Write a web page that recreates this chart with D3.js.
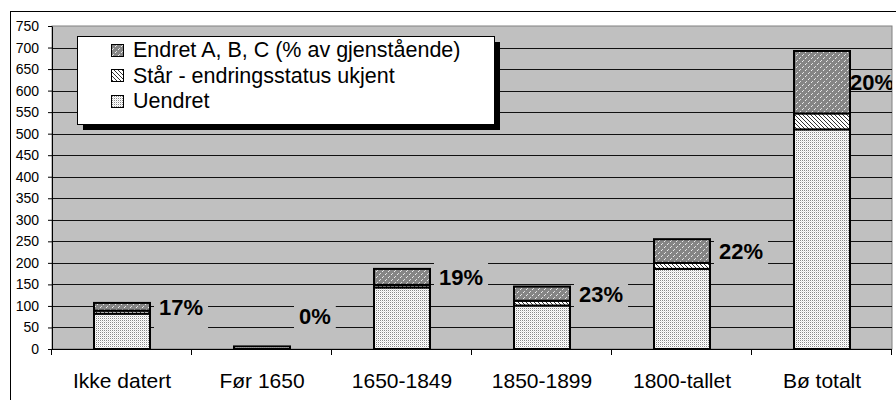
<!DOCTYPE html>
<html>
<head>
<meta charset="utf-8">
<script src="https://cdn.jsdelivr.net/npm/d3@7"></script>
<style>
  body { margin: 0; background: #fff; }
  svg { font-family: "Liberation Sans", Arial, sans-serif; }
</style>
</head>
<body>
<div id="chart"></div>
<script>
const categories = ["Ikke datert", "Før 1650", "1650-1849", "1850-1899", "1800-tallet", "Bø totalt"]
const uendret = [82, 6, 143, 101, 186, 510]
const staar = [7, 0, 6, 11, 14, 37]
const endret = [18, 0, 37, 33, 55, 145]
const pctLabels = ["17%", "0%", "19%", "23%", "22%", "20%"]
const yTicks = [0, 50, 100, 150, 200, 250, 300, 350, 400, 450, 500, 550, 600, 650, 700, 750]
const seriesNames = ["Endret A, B, C (% av gjenstående)", "Står - endringsstatus ukjent", "Uendret"]

const width = 896, height = 400
const plot = { left: 52, right: 892, top: 26, bottom: 349 }

const svg = d3.select("#chart").append("svg")
    .attr("width", width)
    .attr("height", height)

/* patterns */
const defs = svg.append("defs")
let p = defs.append("pattern").attr("id", "pat-uendret").attr("patternUnits", "userSpaceOnUse")
    .attr("width", 2).attr("height", 2)
p.append("rect").attr("width", 2).attr("height", 2).attr("fill", "#fff")
p.append("rect").attr("x", 0).attr("y", 0).attr("width", 1).attr("height", 1).attr("fill", "#8a8a8a")
p.append("rect").attr("x", 1).attr("y", 1).attr("width", 1).attr("height", 1).attr("fill", "#e4e4e4")

p = defs.append("pattern").attr("id", "pat-staar").attr("patternUnits", "userSpaceOnUse")
    .attr("width", 4).attr("height", 4)
p.append("rect").attr("width", 4).attr("height", 4).attr("fill", "#fff")
p.append("path").attr("d", "M0,0 L4,4 M-1,3 L1,5 M3,-1 L5,1").attr("stroke", "#333").attr("stroke-width", 1)

p = defs.append("pattern").attr("id", "pat-endret").attr("patternUnits", "userSpaceOnUse")
    .attr("width", 6).attr("height", 6)
p.append("rect").attr("width", 6).attr("height", 6).attr("fill", "#858585")
p.append("rect").attr("x", 1).attr("y", 4).attr("width", 1).attr("height", 1).attr("fill", "#eee")
p.append("rect").attr("x", 2).attr("y", 3).attr("width", 1).attr("height", 1).attr("fill", "#ddd")
p.append("rect").attr("x", 4).attr("y", 1).attr("width", 1).attr("height", 1).attr("fill", "#eee")
p.append("rect").attr("x", 5).attr("y", 0).attr("width", 1).attr("height", 1).attr("fill", "#ddd")

const fills = ["url(#pat-uendret)", "url(#pat-staar)", "url(#pat-endret)"]

/* outer frame */
svg.append("rect")
    .attr("x", 10.5).attr("y", 11.5)
    .attr("width", 900).attr("height", 400)
    .attr("fill", "none").attr("stroke", "#000")

/* scales */
let x = d3.scaleBand()
    .domain(categories)
    .range([plot.left, plot.right])
    .paddingInner(0.6)
    .paddingOuter(0.3)

let y = d3.scaleLinear()
    .domain([0, 750])
    .range([plot.bottom, plot.top])

/* plot area */
svg.append("rect")
    .attr("x", plot.left).attr("y", plot.top)
    .attr("width", plot.right - plot.left).attr("height", plot.bottom - plot.top)
    .attr("fill", "#c0c0c0").attr("stroke", "#808080")

svg.append("g").selectAll("line")
    .data(yTicks.filter(d => d > 0 && d < 750))
    .enter().append("line")
    .attr("x1", plot.left).attr("x2", plot.right)
    .attr("y1", d => Math.round(y(d)) + 0.5).attr("y2", d => Math.round(y(d)) + 0.5)
    .attr("stroke", "#111")

/* Y-axis */
const yAxis = svg.append("g")
    .attr("transform", `translate(${plot.left}, 0)`)
    .call(d3.axisLeft(y).tickValues(yTicks).tickSize(4).tickSizeOuter(0).tickPadding(9))
yAxis.select(".domain").attr("stroke", "#000")
yAxis.selectAll("text").attr("font-size", 14).attr("fill", "#000").attr("font-family", "Liberation Sans, Arial")
yAxis.selectAll(".tick line").attr("stroke", "#000")

/* stacked bars */
const rows = categories.map((c, i) => ({ cat: c, uendret: uendret[i], staar: staar[i], endret: endret[i] }))
const stacked = d3.stack().keys(["uendret", "staar", "endret"])(rows)

const clip = defs.append("clipPath").attr("id", "plot-clip")
clip.append("rect").attr("x", plot.left).attr("y", plot.top)
    .attr("width", plot.right - plot.left).attr("height", plot.bottom - plot.top)

stacked.forEach((layer, k) => {
    svg.append("g").selectAll("rect")
        .data(layer.filter(d => d[1] > d[0]))
        .enter().append("rect")
        .attr("x", d => x(d.data.cat))
        .attr("y", d => y(d[1]))
        .attr("width", x.bandwidth())
        .attr("height", d => y(d[0]) - y(d[1]))
        .attr("fill", fills[k])
        .attr("stroke", "#000")
        .attr("stroke-width", 2)
})

/* percentage labels */
const labelG = svg.append("g").attr("clip-path", "url(#plot-clip)")
rows.forEach((d, i) => {
    const base = d.uendret + d.staar
    const mid = Math.min(y(base + d.endret / 2), plot.bottom - 33)
    const t = labelG.append("text")
        .text(pctLabels[i])
        .attr("font-size", 22)
        .attr("font-weight", "bold")
        .attr("fill", "#000")
        .attr("dy", "0.36em")
        .attr("y", mid)
    const tw = t.node().getComputedTextLength()
    const tx = Math.min(x(d.cat) + x.bandwidth() + 9, plot.right - tw + 2)
    t.attr("x", tx)
    if (tx + tw + 5 <= plot.right) {
        labelG.insert("rect", "text")
            .attr("x", tx - 5).attr("y", mid - 20)
            .attr("width", tw + 10).attr("height", 45)
            .attr("fill", "#c0c0c0")
    }
})

/* X-axis */
const xAxis = svg.append("g")
    .attr("transform", `translate(0, ${plot.bottom})`)
    .call(d3.axisBottom(x).tickSize(0).tickPadding(24))
xAxis.select(".domain").remove()
xAxis.selectAll("text").attr("font-size", 21).attr("fill", "#000").attr("font-family", "Liberation Sans, Arial")

svg.append("line")
    .attr("x1", plot.left).attr("x2", plot.right)
    .attr("y1", plot.bottom + 0.5).attr("y2", plot.bottom + 0.5)
    .attr("stroke", "#000")
svg.append("g").selectAll("line")
    .data(d3.range(categories.length + 1))
    .enter().append("line")
    .attr("x1", i => Math.round(plot.left + i * x.step()) - 0.5)
    .attr("x2", i => Math.round(plot.left + i * x.step()) - 0.5)
    .attr("y1", plot.bottom).attr("y2", plot.bottom + 6)
    .attr("stroke", "#000")

/* legend */
const lx = 77, ly = 36, lw = 417, lh = 88
svg.append("rect").attr("x", lx + 6).attr("y", ly + 6).attr("width", lw).attr("height", lh).attr("fill", "#000")
svg.append("rect").attr("x", lx + 0.5).attr("y", ly + 0.5).attr("width", lw).attr("height", lh)
    .attr("fill", "#fff").attr("stroke", "#000")

const legendFills = [fills[2], fills[1], fills[0]]
seriesNames.forEach((name, i) => {
    const cy = 49.5 + i * 25.5
    svg.append("rect")
        .attr("x", 111.5).attr("y", Math.round(cy - 6) + 0.5)
        .attr("width", 12).attr("height", 12)
        .attr("fill", legendFills[i]).attr("stroke", "#000")
    svg.append("text")
        .attr("x", 133).attr("y", cy)
        .attr("dy", "0.36em")
        .attr("font-size", 21.5)
        .attr("fill", "#000")
        .text(name)
})
</script>
</body>
</html>
